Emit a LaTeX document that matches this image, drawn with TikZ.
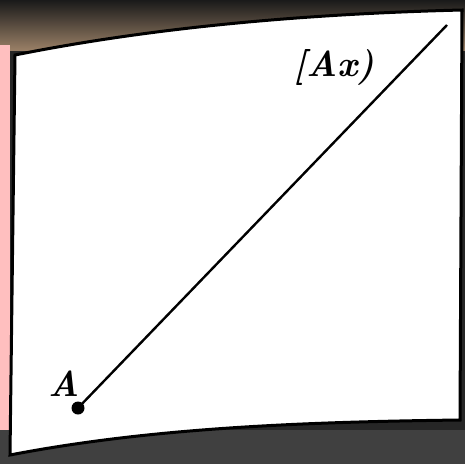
\documentclass[tikz,border=0pt]{standalone}
\begin{document}
\begin{tikzpicture}[x=1pt,y=-1pt,
  frame/.style={draw=black,line width=3pt,fill=white},
  ray/.style={draw=black,line width=2.4pt},
  lbl/.style={font=\bfseries\itshape\fontsize{36}{40}\selectfont,inner sep=0pt}]
\useasboundingbox (0,0) rectangle (465,464);
\fill[black!70!gray] (0,0) rectangle (465,464);
\shade[top color=black!90,bottom color=gray!60!brown] (0,0) rectangle (465,50);
\fill[red!25!white] (0,45) rectangle (10,464);
\fill[black!75] (0,430) rectangle (465,464);
\path[frame] (15,55) .. controls (150,28) and (300,14) .. (462,10)
  -- (460,420) .. controls (300,422) and (150,428) .. (10,455) -- cycle;
\coordinate (Apt) at (78,408);
\coordinate (end) at (447,25);
\draw[ray] (Apt) -- (end);
\fill[black] (Apt) circle (6.5);
\node[lbl] (A) at (64,384) {A};
\node[lbl] (Ax) at (334,67) {[Ax)};
\end{tikzpicture}
\end{document}
